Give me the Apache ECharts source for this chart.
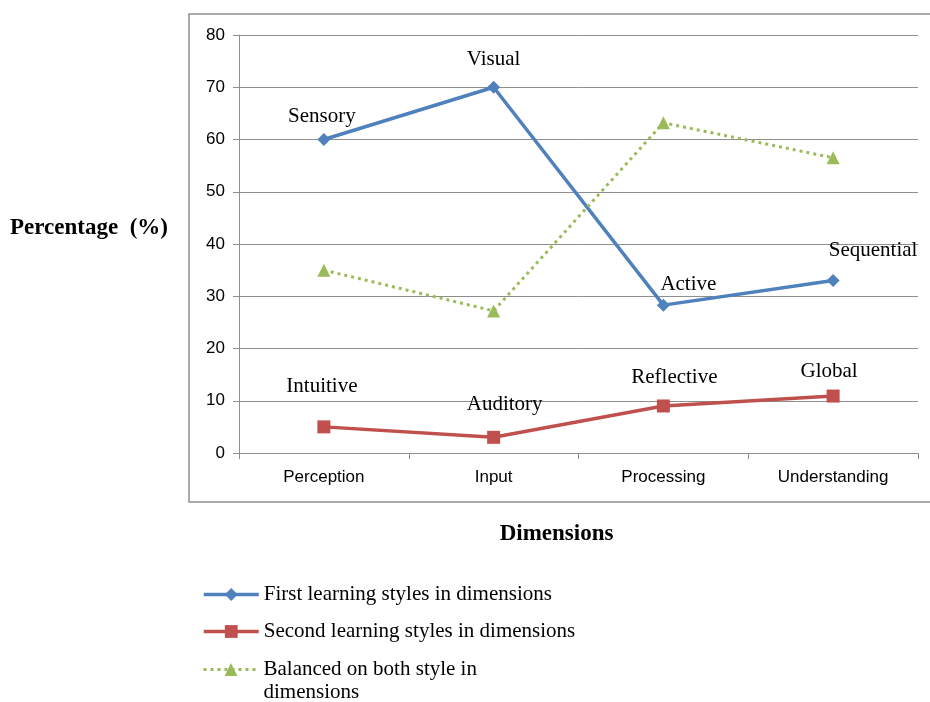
<!DOCTYPE html>
<html>
<head>
<meta charset="utf-8">
<script src="https://cdn.jsdelivr.net/npm/echarts@6/dist/echarts.min.js"></script>
<style>
  html, body { margin: 0; padding: 0; background: #fff; }
  #chart { width: 930px; height: 702px; }
</style>
</head>
<body>
<div id="chart"></div>
<script>
// data
const dimensions = ['Perception', 'Input', 'Processing', 'Understanding'];
const firstStyles = [60, 70, 28.3, 33];
const secondStyles = [5, 3, 9, 10.9];
const balancedStyles = [35, 27.2, 63.2, 56.5];
const firstNames = ['Sensory', 'Visual', 'Active', 'Sequential'];
const secondNames = ['Intuitive', 'Auditory', 'Reflective', 'Global'];

// label nudges (px, label centre relative to the point)
const firstOffsets = [[-2, -23], [0, -28], [25, -21], [40, -30]];
const secondOffsets = [[-2, -40], [11, -33], [11, -28], [-4, -25]];

const SERIF = '"Liberation Serif", "Times New Roman", serif';
const SANS = '"Liberation Sans", Arial, sans-serif';
const GRID_GRAY = '#8e8e8e';

function withLabels(values, names, offsets) {
    return values.map((v, i) => ({
        value: v,
        label: { show: true, formatter: names[i], offset: offsets[i] }
    }));
}

const chart = echarts.init(document.getElementById('chart'));

const labelStyle = {
    show: true,
    position: 'inside',
    fontFamily: SERIF,
    fontSize: 21,
    color: '#000'
};

const legendText = { fontFamily: SERIF, fontSize: 21, color: '#000', lineHeight: 23 };

chart.setOption({
    animation: false,
    grid: { left: 239, right: 12, top: 35, bottom: 249 },
    graphic: [{
        type: 'rect',
        shape: { x: 189, y: 14, width: 760, height: 488 },
        style: { fill: 'none', stroke: GRID_GRAY, lineWidth: 1.5 },
        z: -1
    }],
    legend: [{
        orient: 'vertical',
        left: 197,
        top: 578,
        itemWidth: 55,
        itemHeight: 16,
        itemGap: 14,
        lineStyle: { width: 3.5 },
        data: ['First learning styles in dimensions', 'Second learning styles in dimensions'],
        textStyle: legendText
    }, {
        orient: 'vertical',
        left: 197,
        top: 630,
        itemWidth: 55,
        itemHeight: 16,
        lineStyle: { width: 3 },
        data: ['Balanced on both style in dimensions'],
        // empty first line keeps the icon level with the first text line
        formatter: () => '\nBalanced on both style in\ndimensions',
        textStyle: legendText
    }],
    xAxis: {
        type: 'category',
        data: dimensions,
        boundaryGap: true,
        name: 'Dimensions',
        nameLocation: 'middle',
        nameGap: 70,
        nameTextStyle: { fontFamily: SERIF, fontSize: 23, fontWeight: 'bold', color: '#000', padding: [0, 44, 0, 0] },
        axisLine: { lineStyle: { color: GRID_GRAY, width: 1 } },
        axisTick: { show: true, length: 6, lineStyle: { color: GRID_GRAY } },
        axisLabel: { fontFamily: SANS, fontSize: 17, color: '#000', margin: 16 },
        splitLine: { show: false }
    },
    yAxis: {
        type: 'value',
        min: 0,
        max: 80,
        interval: 10,
        name: 'Percentage  (%)',
        nameLocation: 'middle',
        nameRotate: 0,
        nameGap: 71,
        nameTextStyle: {
            fontFamily: SERIF, fontSize: 23, fontWeight: 'bold', color: '#000',
            align: 'right', verticalAlign: 'bottom', lineHeight: 32
        },
        axisLine: { show: true, lineStyle: { color: GRID_GRAY, width: 1 } },
        axisTick: { show: true, length: 6, lineStyle: { color: GRID_GRAY } },
        axisLabel: { fontFamily: SANS, fontSize: 17, color: '#000', margin: 14 },
        splitLine: { lineStyle: { color: GRID_GRAY, width: 1 } }
    },
    series: [{
        name: 'First learning styles in dimensions',
        type: 'line',
        data: withLabels(firstStyles, firstNames, firstOffsets),
        symbol: 'diamond',
        symbolSize: 13,
        lineStyle: { color: '#4f81bd', width: 3.5 },
        itemStyle: { color: '#4f81bd' },
        label: labelStyle
    }, {
        name: 'Second learning styles in dimensions',
        type: 'line',
        data: withLabels(secondStyles, secondNames, secondOffsets),
        symbol: 'rect',
        symbolSize: 13,
        lineStyle: { color: '#c0504d', width: 3.5 },
        itemStyle: { color: '#c0504d' },
        label: labelStyle
    }, {
        name: 'Balanced on both style in dimensions',
        type: 'line',
        data: balancedStyles,
        symbol: 'triangle',
        symbolSize: 13,
        lineStyle: { color: '#9bbb59', width: 3, type: [3, 4] },
        itemStyle: { color: '#9bbb59' }
    }]
});

window.addEventListener('resize', () => chart.resize());
</script>
</body>
</html>
